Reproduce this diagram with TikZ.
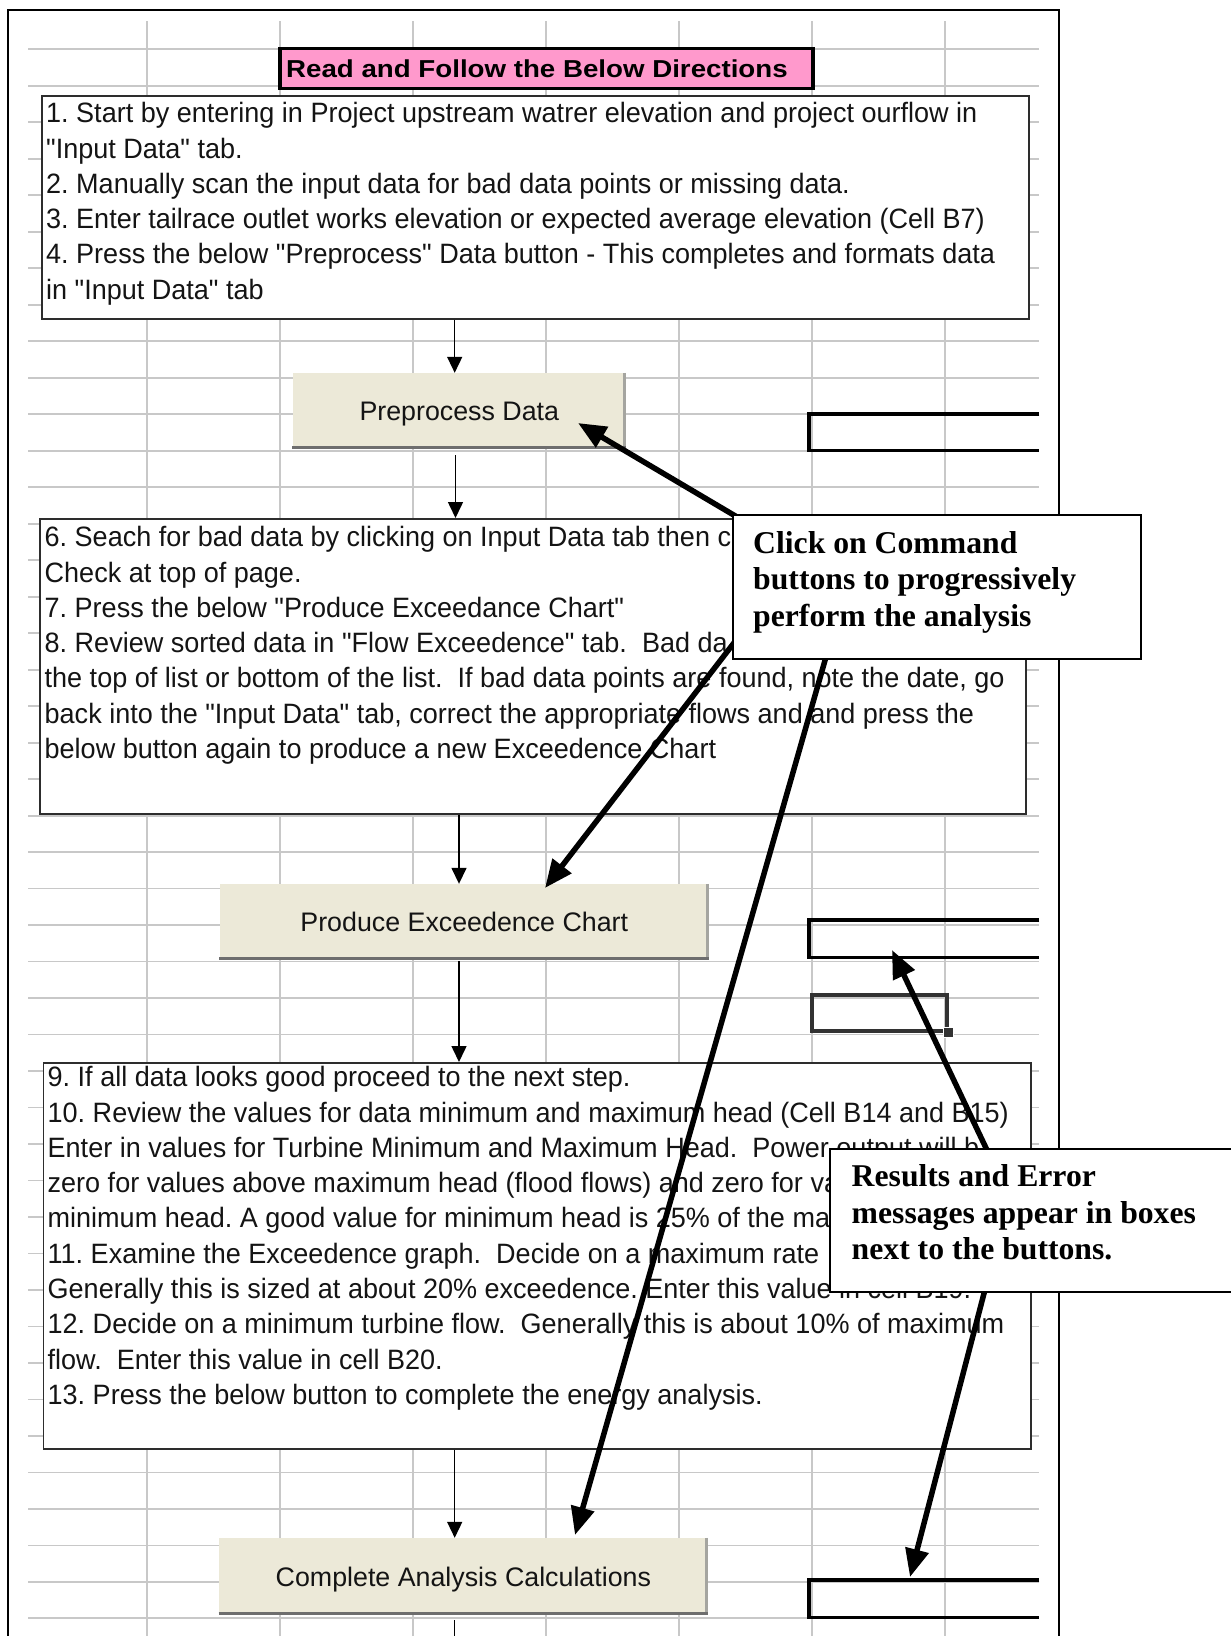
\documentclass[tikz,border=0pt]{standalone}
\usepackage{fontspec}
\usetikzlibrary{arrows.meta,calc}
\newfontfamily\scrfont[FakeStretch=0.965]{Liberation Sans}
\newfontfamily\ttlfont[FakeStretch=1.13]{Liberation Sans}
\newfontfamily\btnfont{Liberation Sans}
\newfontfamily\callfont{Liberation Serif}
\definecolor{gridc}{RGB}{200,200,200}
\definecolor{btnbeige}{RGB}{236,233,216}
\definecolor{titlepink}{RGB}{255,153,204}
\definecolor{boxline}{RGB}{45,45,45}
\definecolor{txtc}{RGB}{20,20,20}
\definecolor{btndark}{RGB}{110,110,110}
\definecolor{btnmid}{RGB}{165,165,160}
\definecolor{cellc}{RGB}{50,50,50}
\pgfdeclarelayer{front}
\pgfsetlayers{main,front}
\frenchspacing
\begin{document}
\begin{tikzpicture}[x=1pt,y=-1pt,
  gridline/.style={draw=gridc,line width=1.8pt},
  frameline/.style={draw=black,line width=2.6pt},
  textbox/.style={rectangle,draw=boxline,line width=1.6pt,fill=white,anchor=north west,inner sep=0pt},
  boxtext/.style={anchor=base west,inner sep=0pt,text=txtc,font=\scrfont\fontsize{28}{35.3}\selectfont\frenchspacing},
  titlebox/.style={rectangle,draw=black,line width=3.5pt,fill=titlepink,anchor=north west,inner sep=0pt},
  titletext/.style={anchor=base west,inner sep=0pt,font=\ttlfont\bfseries\fontsize{24.5}{28}\selectfont},
  button/.style={rectangle,fill=btnbeige,inner sep=0pt,text=txtc,font=\btnfont\fontsize{26.8}{30}\selectfont,text height=19pt,text depth=0pt},
  btnbottom/.style={draw=btndark,line width=3pt},
  btnright/.style={draw=btnmid,line width=3pt},
  resarea/.style={rectangle,inner sep=0pt,anchor=north west},
  resbox/.style={draw=black,line width=3.6pt,line join=miter},
  callout/.style={rectangle,draw=black,line width=2.4pt,fill=white,anchor=north west,inner sep=0pt},
  calltext/.style={anchor=base west,inner sep=0pt,font=\callfont\bfseries\fontsize{31.7}{36.5}\selectfont},
  flowarrow/.style={draw=black,line width=1.5pt,-{Triangle[length=16pt,width=15pt]}},
  flowline/.style={draw=black,line width=1.5pt},
  bigarrow/.style={draw=black,line width=5.5pt,-{Triangle[length=28pt,width=23pt]}},
]
\useasboundingbox (0,0) rectangle (1231,1636);
\clip (0,0) rectangle (1231,1636);
\fill[white] (0,0) rectangle (1231,1636);

% spreadsheet grid
\foreach \k in {0,...,43} {\draw[gridline] (28,{49.3+36.49*\k}) -- (1039,{49.3+36.49*\k});}
\foreach \gx in {147,280,413,546,679,812,945} {\draw[gridline] (\gx,21) -- (\gx,1645);}

% outer frame
\draw[frameline] (8,1650) -- (8,10) -- (1059,10) -- (1059,1650);

% title
\node[titlebox,minimum width=533pt,minimum height=40pt] (title) at (278,46.7) {};
\node[titletext] (titlet) at (286,77.2) {Read and Follow the Below Directions};

% text boxes
\node[textbox,minimum width=987pt,minimum height=223pt] (box1) at (41,95) {};
\node[boxtext] (box1t) at (46,122.7) {\parbox[t]{1100pt}{%
1. Start by entering in Project upstream watrer elevation and project ourflow in\\
"Input Data" tab.\\
2. Manually scan the input data for bad data points or missing data.\\
3. Enter tailrace outlet works elevation or expected average elevation (Cell B7)\\
4. Press the below "Preprocess" Data button - This completes and formats data\\
in "Input Data" tab}};

\node[textbox,minimum width=985.7pt,minimum height=295pt] (box2) at (39.3,518) {};
\node[boxtext] (box2t) at (44.5,546.7) {\parbox[t]{1100pt}{%
6. Seach for bad data by clicking on Input Data tab then c\\
Check at top of page.\\
7. Press the below "Produce Exceedance Chart"\\
8. Review sorted data in "Flow Exceedence" tab.~ Bad da\\
the top of list or bottom of the list.~ If bad data points are found, note the date, go\\
back into the "Input Data" tab, correct the appropriate flows and and press the\\
below button again to produce a new Exceedence Chart}};

\node[textbox,minimum width=987.3pt,minimum height=386pt] (box3) at (42.7,1062) {};
\node[boxtext] (box3t) at (47.5,1086.7) {\parbox[t]{1100pt}{%
9. If all data looks good proceed to the next step.\\
10. Review the values for data minimum and maximum head (Cell B14 and B15)\\
Enter in values for Turbine Minimum and Maximum Head.~ Power output will b\\
zero for values above maximum head (flood flows) and zero for val\\
minimum head. A good value for minimum head is 25\% of the ma\\
11. Examine the Exceedence graph.~ Decide on a maximum rate\\
Generally this is sized at about 20\% exceedence. Enter this value in cell B19.\\
12. Decide on a minimum turbine flow.~ Generally this is about 10\% of maximum\\
flow.~ Enter this value in cell B20.\\
13. Press the below button to complete the energy analysis.}};

% buttons
\node[button,minimum width=333.4pt,minimum height=76pt] (pre) at (459.3,411) {Preprocess Data};
\draw[btnright] ([xshift=-1.5pt]pre.north east) -- ([xshift=-1.5pt]pre.south east);
\draw[btnbottom] ([yshift=1.5pt]pre.south west) -- ([yshift=1.5pt]pre.south east);

\node[button,minimum width=489.5pt,minimum height=76pt] (prod) at (464.3,922) {Produce Exceedence Chart};
\draw[btnright] ([xshift=-1.5pt]prod.north east) -- ([xshift=-1.5pt]prod.south east);
\draw[btnbottom] ([yshift=1.5pt]prod.south west) -- ([yshift=1.5pt]prod.south east);

\node[button,minimum width=489.3pt,minimum height=77pt] (comp) at (463.4,1576.5) {Complete Analysis Calculations};
\draw[btnright] ([xshift=-1.5pt]comp.north east) -- ([xshift=-1.5pt]comp.south east);
\draw[btnbottom] ([yshift=1.5pt]comp.south west) -- ([yshift=1.5pt]comp.south east);

% result boxes (open on the right)
\node[resarea,minimum width=230pt,minimum height=36pt] (res1) at (809,414) {};
\draw[resbox] (res1.north east) -- (res1.north west) -- (res1.south west) -- (res1.south east);
\node[resarea,minimum width=230pt,minimum height=37pt] (res2) at (809,920) {};
\draw[resbox] (res2.north east) -- (res2.north west) -- (res2.south west) -- (res2.south east);
\node[resarea,minimum width=230pt,minimum height=37pt] (res3) at (809,1580) {};
\draw[resbox] (res3.north east) -- (res3.north west) -- (res3.south west) -- (res3.south east);

% selected cell
\node[rectangle,draw=cellc,line width=3.8pt,anchor=north west,inner sep=0pt,minimum width=135.3pt,minimum height=36.6pt] (cell) at (810,992.7) {};
\node[rectangle,fill=cellc,draw=white,line width=1pt,minimum size=10pt,inner sep=0pt] (handle) at ([xshift=-1pt,yshift=1pt]cell.south east) {};

% callouts (drawn on top)
\begin{pgfonlayer}{front}
\node[callout,minimum width=408pt,minimum height=144pt] (call1) at (732,514) {};
\node[calltext] (call1t) at (753,553) {\parbox[t]{400pt}{Click on Command\\buttons to progressively\\perform the analysis}};
\node[callout,minimum width=420pt,minimum height=143pt] (call2) at (829,1148) {};
\node[calltext] (call2t) at (851.5,1186.7) {\parbox[t]{400pt}{Results and Error\\messages appear in boxes\\next to the buttons.}};
\end{pgfonlayer}

% flow arrows
\coordinate (c1) at (454.7,0);
\coordinate (c2) at (455.5,0);
\coordinate (c3) at (459,0);
\coordinate (pgbottom) at (0,1645);
\draw[flowarrow] (box1.south -| c1) -- (pre.north -| c1);
\draw[flowarrow] ($(pre.south -| c2)+(0,6)$) -- (box2.north -| c2);
\draw[flowarrow] (box2.south -| c3) -- (prod.north -| c3);
\draw[flowarrow] ($(prod.south -| c3)+(0,1)$) -- (box3.north -| c3);
\draw[flowarrow] (box3.south -| c1) -- (comp.north -| c1);
\draw[flowline] ($(comp.south -| c1)+(0,5)$) -- (pgbottom -| c1);

% big pointer arrows
\coordinate (t1) at (578,423);
\coordinate (t2) at (545,888);
\coordinate (t3) at (575,1535);
\coordinate (t4) at (892,950);
\coordinate (t5) at (910,1577);
\coordinate (s1) at (call1.north west);
\coordinate (s2) at ($(call1.south west)+(0,-15)$);
\coordinate (s3) at ($(call1.south west)+(93,0)$);
\coordinate (s4) at ($(call2.north west)+(157,0)$);
\coordinate (s5) at ($(call2.south west)+(155,0)$);
\draw[bigarrow] ($(s1)!-6pt!(t1)$) -- (t1);
\draw[bigarrow] ($(s2)!-6pt!(t2)$) -- (t2);
\draw[bigarrow] ($(s3)!-6pt!(t3)$) -- (t3);
\draw[bigarrow] ($(s4)!-6pt!(t4)$) -- (t4);
\draw[bigarrow] ($(s5)!-6pt!(t5)$) -- (t5);
\end{tikzpicture}
\end{document}
